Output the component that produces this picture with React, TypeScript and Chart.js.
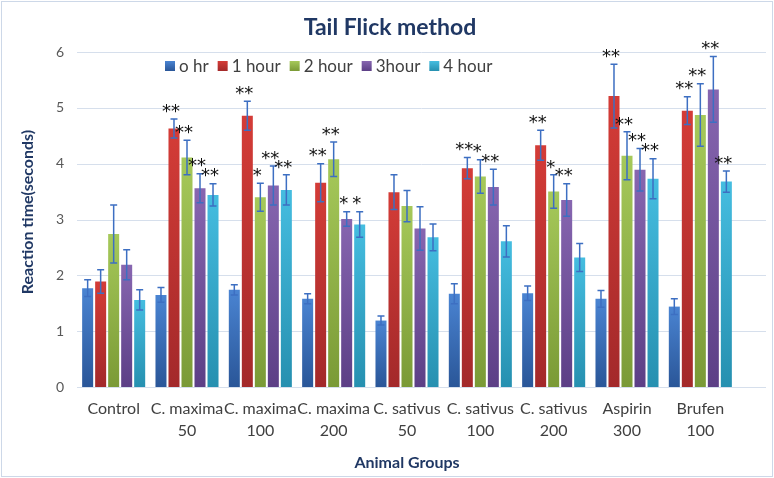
import React, { useEffect, useRef } from 'react';
import { Chart, registerables } from 'chart.js';

Chart.register(...registerables);

// ---------- data ----------
const groupNames = ['Control', 'C. maxima', 'C. maxima', 'C. maxima', 'C. sativus', 'C. sativus', 'C. sativus', 'Aspirin', 'Brufen'];
const doseLabels = ['', '50', '100', '200', '50', '100', '200', '300', '100'];
const seriesNames = ['o hr', '1 hour', '2 hour', '3hour', '4 hour'];

const hr0 = [1.77, 1.65, 1.74, 1.58, 1.19, 1.67, 1.68, 1.58, 1.44];
const hr1 = [1.89, 4.63, 4.86, 3.66, 3.49, 3.92, 4.33, 5.21, 4.95];
const hr2 = [2.74, 4.11, 3.40, 4.08, 3.24, 3.77, 3.50, 4.14, 4.87];
const hr3 = [2.19, 3.56, 3.61, 3.01, 2.84, 3.58, 3.35, 3.89, 5.33];
const hr4 = [1.56, 3.44, 3.53, 2.91, 2.68, 2.61, 2.32, 3.73, 3.68];

const hr0Err = [0.15, 0.13, 0.09, 0.09, 0.08, 0.18, 0.13, 0.15, 0.14];
const hr1Err = [0.21, 0.17, 0.26, 0.34, 0.31, 0.19, 0.27, 0.57, 0.25];
const hr2Err = [0.52, 0.31, 0.25, 0.31, 0.28, 0.30, 0.30, 0.43, 0.56];
const hr3Err = [0.27, 0.26, 0.35, 0.13, 0.39, 0.32, 0.29, 0.38, 0.59];
const hr4Err = [0.18, 0.20, 0.27, 0.23, 0.24, 0.28, 0.25, 0.36, 0.19];

const hr0Sig = ['', '', '', '', '', '', '', '', ''];
const hr1Sig = ['', '**', '**', '**', '', '**', '**', '**', '**'];
const hr2Sig = ['', '**', '*', '**', '', '*', '*', '**', '**'];
const hr3Sig = ['', '**', '**', '*', '', '**', '**', '**', '**'];
const hr4Sig = ['', '**', '**', '*', '', '', '', '**', '**'];

const yTicks = [0, 1, 2, 3, 4, 5, 6];

const chartTitle = 'Tail Flick method';
const yTitle = 'Reaction time(seconds)';
const xTitle = 'Animal Groups';

// ---------- style ----------
const FONT = 'Lato, "Open Sans", sans-serif';
const NAVY = '#203864';
const barColors: [string, string][] = [
  ['#4a84d2', '#2a5698'],
  ['#d43c37', '#a3292a'],
  ['#a6c95a', '#7a9a36'],
  ['#8766b0', '#5c3f86'],
  ['#45bde0', '#2690b0'],
];
const errColor = '#3d6fc2';

export default function App() {
  const ref = useRef<HTMLCanvasElement | null>(null);

  useEffect(() => {
    const canvas = ref.current;
    if (!canvas) return;
    const series = [hr0, hr1, hr2, hr3, hr4];
    const errs = [hr0Err, hr1Err, hr2Err, hr3Err, hr4Err];
    const sigs = [hr0Sig, hr1Sig, hr2Sig, hr3Sig, hr4Sig];
    const labels = groupNames.map((g, i) => (doseLabels[i] ? [g, doseLabels[i]] : g));

    const datasets = series.map((data, i) => ({
      label: seriesNames[i],
      data,
      backgroundColor: (ctx: any) => {
        const chart = ctx.chart;
        const ys = chart.scales && chart.scales.y;
        if (!chart.chartArea || !ys || ctx.parsed == null) return barColors[i][0];
        const top = ys.getPixelForValue(ctx.parsed.y);
        const bottom = ys.getPixelForValue(0);
        if (!isFinite(top) || !isFinite(bottom) || bottom - top < 1) return barColors[i][0];
        const g = chart.ctx.createLinearGradient(0, top, 0, bottom);
        g.addColorStop(0, barColors[i][0]);
        g.addColorStop(1, barColors[i][1]);
        return g;
      },
      borderWidth: 0,
      categoryPercentage: 0.887,
      barPercentage: 0.846,
    }));

    const gridPlugin = {
      id: 'gridPlugin',
      beforeDatasetsDraw(chart: any) {
        const { ctx, chartArea } = chart;
        const ys = chart.scales.y;
        ctx.save();
        ctx.strokeStyle = '#d6dfec';
        ctx.lineWidth = 1;
        yTicks.forEach((v) => {
          const y = Math.round(ys.getPixelForValue(v)) + 0.5;
          ctx.beginPath();
          ctx.moveTo(chartArea.left, y);
          ctx.lineTo(chart.width - 8, y);
          ctx.stroke();
        });
        ctx.restore();
      },
    };

    const errPlugin = {
      id: 'errPlugin',
      afterDatasetsDraw(chart: any) {
        const { ctx } = chart;
        const ys = chart.scales.y;
        ctx.save();
        chart.data.datasets.forEach((ds: any, di: number) => {
          const meta = chart.getDatasetMeta(di);
          meta.data.forEach((el: any, i: number) => {
            const v = series[di][i];
            const e = errs[di][i];
            const yt = ys.getPixelForValue(v + e);
            const yb = ys.getPixelForValue(v - e);
            ctx.strokeStyle = errColor;
            ctx.lineWidth = 1.5;
            ctx.beginPath();
            ctx.moveTo(el.x, yt);
            ctx.lineTo(el.x, yb);
            ctx.moveTo(el.x - 3.5, yt);
            ctx.lineTo(el.x + 3.5, yt);
            ctx.moveTo(el.x - 3.5, yb);
            ctx.lineTo(el.x + 3.5, yb);
            ctx.stroke();
          });
        });
        // significance marks
        ctx.fillStyle = '#111111';
        ctx.font = '18px "DejaVu Sans", sans-serif';
        ctx.textAlign = 'center';
        ctx.textBaseline = 'middle';
        chart.data.datasets.forEach((ds: any, di: number) => {
          const meta = chart.getDatasetMeta(di);
          meta.data.forEach((el: any, i: number) => {
            const s = sigs[di][i];
            if (!s) return;
            const yt = ys.getPixelForValue(series[di][i] + errs[di][i]);
            ctx.fillText(s, el.x - 3, yt - 7);
          });
        });
        ctx.restore();
      },
    };

    const decorPlugin = {
      id: 'decorPlugin',
      afterDraw(chart: any) {
        const { ctx, chartArea } = chart;
        ctx.save();
        // border
        ctx.strokeStyle = '#cdd8e8';
        ctx.lineWidth = 1;
        ctx.strokeRect(1.5, 1.5, chart.width - 3, chart.height - 3);
        // title
        ctx.fillStyle = NAVY;
        ctx.textAlign = 'center';
        ctx.textBaseline = 'middle';
        ctx.font = `bold 23px ${FONT}`;
        ctx.fillText(chartTitle, 390, 28);
        // x title
        ctx.font = `bold 16px ${FONT}`;
        ctx.fillText(xTitle, (chartArea.left + chartArea.right) / 2, 463);
        // y title
        ctx.save();
        ctx.translate(28, 212);
        ctx.rotate(-Math.PI / 2);
        ctx.fillText(yTitle, 0, 0);
        ctx.restore();
        // legend
        ctx.font = `17px ${FONT}`;
        ctx.textAlign = 'left';
        let x = 165;
        const ly = 66;
        seriesNames.forEach((name, i) => {
          const g = ctx.createLinearGradient(0, ly - 5, 0, ly + 5);
          g.addColorStop(0, barColors[i][0]);
          g.addColorStop(1, barColors[i][1]);
          ctx.fillStyle = g;
          ctx.fillRect(x, ly - 5, 10, 10);
          ctx.fillStyle = '#404040';
          ctx.fillText(name, x + 14, ly + 1);
          x += 14 + ctx.measureText(name).width + 9;
        });
        ctx.restore();
      },
    };

    const chart = new Chart(canvas, {
      type: 'bar',
      data: { labels, datasets: datasets as any },
      options: {
        responsive: false,
        animation: false,
        layout: { padding: { top: 52, right: 37, left: 0, bottom: 0 } },
        plugins: {
          legend: { display: false },
          title: { display: false },
          tooltip: { enabled: false },
        },
        scales: {
          x: {
            grid: { display: false, drawTicks: false },
            border: { display: false },
            ticks: {
              font: { family: FONT, size: 16, lineHeight: 1.35 },
              color: '#404040',
              padding: 11,
              maxRotation: 0,
              autoSkip: false,
            },
            afterFit: (s: any) => { s.height = 91; },
          },
          y: {
            min: 0,
            max: 6,
            grid: { display: false, drawTicks: false },
            border: { display: false },
            ticks: {
              stepSize: 1,
              font: { family: FONT, size: 14 },
              color: '#595959',
              padding: 13,
            },
            afterFit: (s: any) => { s.width = 77; },
          },
        },
      },
      plugins: [gridPlugin, errPlugin, decorPlugin],
    });
    return () => chart.destroy();
  }, []);

  return (
    <div style={{ position: 'absolute', left: 0, top: 0, width: 774, height: 478, background: '#ffffff' }}>
      <canvas ref={ref} width={774} height={478} style={{ width: 774, height: 478, display: 'block' }} />
    </div>
  );
}
